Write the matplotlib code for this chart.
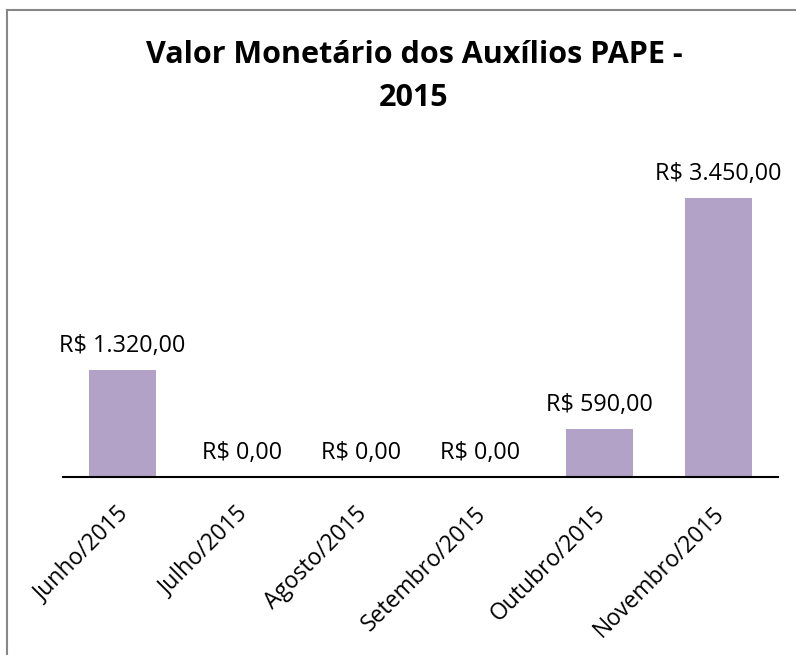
import matplotlib
matplotlib.use("Agg")
import matplotlib.pyplot as plt
from matplotlib.lines import Line2D
from matplotlib.transforms import ScaledTranslation

# data
months = ["Junho/2015", "Julho/2015", "Agosto/2015", "Setembro/2015",
          "Outubro/2015", "Novembro/2015"]
values = [1320, 0, 0, 0, 590, 3450]
labels = ["R$ 1.320,00", "R$ 0,00", "R$ 0,00", "R$ 0,00",
          "R$ 590,00", "R$ 3.450,00"]

plt.rcParams["font.family"] = ["Open Sans", "DejaVu Sans"]

W, H = 796, 655
fig = plt.figure(figsize=(W / 100, H / 100), dpi=100)
ax = fig.add_axes([63 / W, 1 - 477 / H, (778 - 63) / W, (477 - 165) / H])

x = range(len(months))
ax.bar(x, values, width=0.563, color="#B3A2C7")
for xi, v, lab in zip(x, values, labels):
    ax.annotate(lab, (xi, v), xytext=(0, 13), textcoords="offset points",
                ha="center", va="baseline", fontsize=16.8)

ax.set_xlim(-0.5, len(months) - 0.5)
ax.set_ylim(0, 3450 * 312 / 279)
ax.set_xticks(list(x))
ax.set_xticklabels(months, rotation=45, ha="right", rotation_mode="anchor",
                   fontsize=16.5)
ax.tick_params(axis="x", length=0, pad=18)
# nudge the rotated labels a little to the left, as in the reference
shift = ScaledTranslation(-6 / 100, 0, fig.dpi_scale_trans)
for t in ax.get_xticklabels():
    t.set_transform(t.get_transform() + shift)
ax.set_yticks([])
for s in ("top", "right", "left"):
    ax.spines[s].set_visible(False)
ax.spines["bottom"].set_linewidth(1.5)

fig.text(414 / W, 1 - 63 / H, "Valor Monetário dos Auxílios PAPE -",
         ha="center", va="baseline", fontsize=22, fontweight="bold")
fig.text(414 / W, 1 - 106 / H, "2015",
         ha="center", va="baseline", fontsize=22, fontweight="bold")

# chart-area border (cut off at right and bottom in the reference)
fig.add_artist(Line2D([7.5 / W, 7.5 / W], [0, 1 - 9.5 / H],
                      transform=fig.transFigure, color="#878787", lw=1.5))
fig.add_artist(Line2D([7.5 / W, 1], [1 - 9.5 / H, 1 - 9.5 / H],
                      transform=fig.transFigure, color="#878787", lw=1.5))

fig.savefig("out.png", dpi=100)
